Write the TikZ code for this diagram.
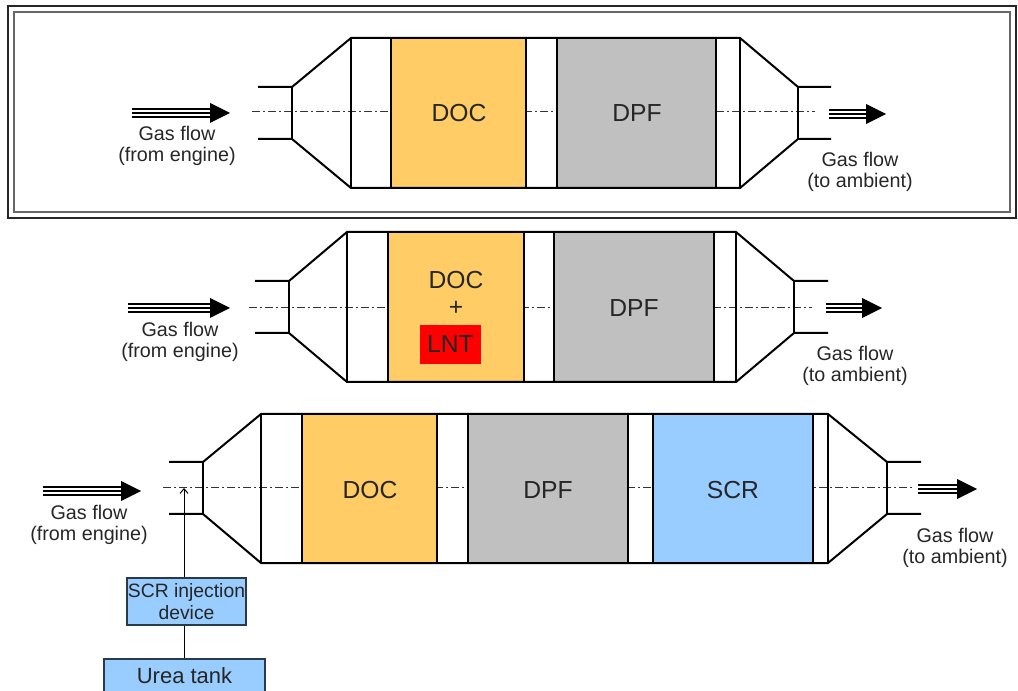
\documentclass[tikz,border=0pt]{standalone}
\usepackage{fontspec}
\setmainfont{Liberation Sans}
\usetikzlibrary{arrows.meta}
\definecolor{docfill}{HTML}{FFCC66}
\definecolor{dpffill}{HTML}{C0C0C0}
\definecolor{scrfill}{HTML}{99CCFF}
\definecolor{lntfill}{HTML}{FF0000}
\definecolor{boxline}{HTML}{2B3A4A}

% triple-line gas arrow: name, x start, x end of lines, y
\newcommand{\gasflow}[4]{%
  \coordinate (#1) at (#3,#4);
  \foreach \dy in {-4.2,0,4.2} \draw[line width=1.4pt] (#2,#4+\dy) -- (#3,#4+\dy);
  \fill (#3,#4-10) -- (#3+20,#4) -- (#3,#4+10) -- cycle;}

\begin{document}
\begin{tikzpicture}[x=0.75pt,y=-0.75pt,
  shell/.style={line width=1.5pt},
  wall/.style={line width=1.2pt},
  centerline/.style={line width=0.75pt, black!80, dash pattern=on 6pt off 2.5pt on 1pt off 2.5pt},
  parttext/.style={font=\fontsize{18.5}{21}\selectfont, text=black!85},
  flowtext/.style={font=\fontsize{14.8}{16}\selectfont, align=center, text=black!85},
  tankbox/.style={draw=boxline, line width=1pt, fill=scrfill, align=center, inner sep=0pt, text=black!85}]
\useasboundingbox (0,0) rectangle (1018,691);

\draw[line width=1.5pt, black!85] (8,6) rectangle (1016,218);
\draw[line width=1.2pt, black!60] (14,12) rectangle (1010,212);

% DOC + DPF
\draw[centerline] (252,112) -- (815,112);
\fill[docfill] (391,38) rectangle (526,188);
\fill[dpffill] (557,38) rectangle (716,188);
\draw[shell] (258,87) -- (292,87) -- (351,38) -- (740,38) -- (798,87) -- (831,87);
\draw[shell] (258,139) -- (292,139) -- (351,188) -- (740,188) -- (798,139) -- (831,139);
\draw[shell] (292,87) -- (292,139) (798,87) -- (798,139);
\foreach \x in {351,391,526,557,716,740} \draw[wall] (\x,38) -- (\x,188);
\node[parttext] (doc1) at (459,113) {DOC};
\node[parttext] (dpf1) at (637,113) {DPF};
\gasflow{in1}{132}{210}{113}
\gasflow{out1}{829}{866}{114}
\node[flowtext] (src1) at (177,146) {Gas flow\\(from engine)};
\node[flowtext] (dst1) at (860,172) {Gas flow\\(to ambient)};

% DOC/LNT + DPF
\draw[centerline] (249,308) -- (812,308);
\fill[docfill] (388,232) rectangle (524,382);
\fill[dpffill] (554,232) rectangle (714,382);
\draw[shell] (255,281) -- (289,281) -- (347,232) -- (736,232) -- (794,281) -- (828,281);
\draw[shell] (255,333) -- (289,333) -- (347,382) -- (736,382) -- (794,333) -- (828,333);
\draw[shell] (289,281) -- (289,333) (794,281) -- (794,333);
\foreach \x in {347,388,524,554,714,736} \draw[wall] (\x,232) -- (\x,382);
\node[parttext] (doc2) at (456,280) {DOC};
\node[parttext] (plus2) at (456,308) {+};
\node[parttext, fill=lntfill, minimum width=45.75pt, minimum height=29.25pt, inner sep=0pt] (lnt2) at (450.5,344.5) {LNT};
\node[parttext] (dpf2) at (634,308) {DPF};
\gasflow{in2}{128}{210}{308}
\gasflow{out2}{826}{862}{308}
\node[flowtext] (src2) at (180,342) {Gas flow\\(from engine)};
\node[flowtext] (dst2) at (855,366) {Gas flow\\(to ambient)};

% DOC + DPF + SCR
\draw[centerline] (163,488) -- (912,488);
\fill[docfill] (302,414) rectangle (437,563);
\fill[dpffill] (468,414) rectangle (628,563);
\fill[scrfill] (653,414) rectangle (813,563);
\draw[shell] (169,462) -- (203,462) -- (261,414) -- (828,414) -- (887,462) -- (921,462);
\draw[shell] (169,514) -- (203,514) -- (261,563) -- (828,563) -- (887,514) -- (921,514);
\draw[shell] (203,462) -- (203,514) (887,462) -- (887,514);
\foreach \x in {261,302,437,468,628,653,813,828} \draw[wall] (\x,414) -- (\x,563);
\node[parttext] (doc3) at (370,490) {DOC};
\node[parttext] (dpf3) at (548,490) {DPF};
\node[parttext] (scr3) at (733,490) {SCR};
\gasflow{in3}{43}{121}{491}
\gasflow{out3}{918}{957}{489}
\node[flowtext] (src3) at (89,525) {Gas flow\\(from engine)};
\node[flowtext] (dst3) at (955,548) {Gas flow\\(to ambient)};

\coordinate (inject) at (184,488);
\node[tankbox, minimum width=89.25pt, minimum height=35.25pt, font=\fontsize{14.5}{17}\selectfont] (injector) at (186.5,601.5) {SCR injection\\device};
\node[tankbox, minimum width=120.75pt, minimum height=25.5pt, font=\fontsize{16.5}{18}\selectfont] (tank) at (184.5,676) {Urea tank};
\draw[line width=0.75pt, -{Straight Barb[length=3.5pt,width=6pt]}] (injector.north -| inject) -- (inject);
\draw[line width=0.75pt] (tank.north -| inject) -- (injector.south -| inject);
\end{tikzpicture}
\end{document}
